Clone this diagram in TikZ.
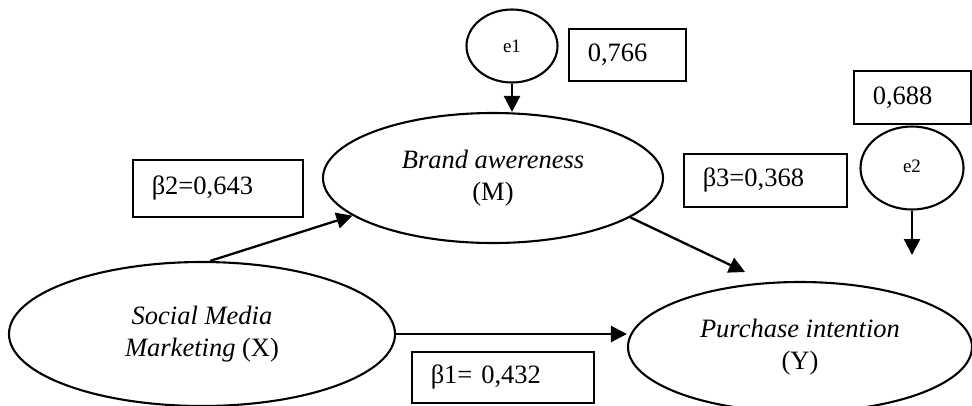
\documentclass[tikz,border=0pt]{standalone}
\usepackage{fontspec}
\setmainfont{Liberation Serif}
\usetikzlibrary{shapes.geometric,arrows.meta}
\begin{document}
\begin{tikzpicture}[x=1pt,y=-1pt,
  latent/.style={ellipse,draw,line width=2.1pt,inner sep=0pt,align=center,font=\fontsize{26.5}{32}\selectfont},
  errnode/.style={ellipse,draw,line width=2.1pt,inner sep=0pt,font=\fontsize{19}{22}\selectfont},
  valbox/.style={draw,line width=1.5pt,anchor=north west,inner xsep=19pt,inner ysep=0pt,align=left,font=\fontsize{26.5}{32}\selectfont},
  arr/.style={line width=2.3pt,-{Triangle[length=16pt,width=16pt]}}]
\useasboundingbox (0,0) rectangle (972,405);
% latent variables
\node[latent,minimum width=340pt,minimum height=130pt] (M) at (493,178) {\textit{Brand awereness}\\(M)};
\node[latent,minimum width=386pt,minimum height=144pt] (X) at (202,334) {\textit{Social Media}\\\textit{Marketing} (X)};
\node[latent,minimum width=344pt,minimum height=130pt] (Y) at (800,347) {\textit{Purchase intention}\\(Y)};
% error terms
\node[errnode,minimum width=91pt,minimum height=73pt] (e1) at (512,46) {e1};
\node[errnode,minimum width=103pt,minimum height=83pt] (e2) at (912,168) {\raisebox{4pt}{e2}};
% value boxes
\node[valbox,text width=79pt,minimum height=52pt] (v766) at (568,28) {0,766};
\node[valbox,text width=79pt,minimum height=53pt] (v688) at (853,70) {0,688};
\node[valbox,text width=132pt,minimum height=57pt] (b2) at (132,159) {β2=0,643};
\node[valbox,text width=125pt,minimum height=53pt] (b3) at (683,153) {β3=0,368};
\node[valbox,text width=144pt,minimum height=51pt] (b1) at (411,351) {β1= 0,432};
% free ends
\coordinate (yin) at (745,272);
\coordinate (e2tip) at (912,255);
% connectors
\draw[arr] (e1.south) -- (e1.south |- M.north);
\draw[arr] ([xshift=8pt]X.north) -- (M.195);
\draw[arr] (M.-16) -- (yin);
\draw[arr] (X.east) -- (X.east -| Y.west);
\draw[arr] (e2.south) -- (e2tip);
\end{tikzpicture}
\end{document}
